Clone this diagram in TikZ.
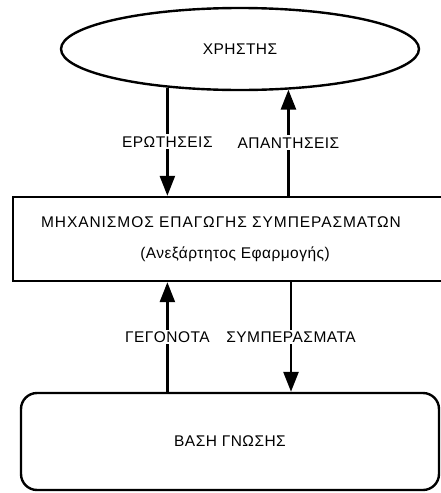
\documentclass[tikz,border=0pt]{standalone}
\usepackage{fontspec}
\setmainfont{Liberation Sans}[LetterSpace=3]
\newfontfamily\widefont{Liberation Sans}[LetterSpace=6]
\usetikzlibrary{shapes.geometric, arrows.meta, positioning}
\tikzstyle{user} = [ellipse, minimum width=358pt, minimum height=82pt, draw=black, line width=2.4pt, inner sep=0pt]
\tikzstyle{engine} = [rectangle, minimum width=432pt, minimum height=84pt, draw=black, line width=2.4pt, inner sep=0pt, align=center]
\tikzstyle{base} = [rectangle, rounded corners=16pt, minimum width=418pt, minimum height=97pt, draw=black, line width=2.4pt, inner sep=0pt]
\tikzstyle{arrow} = [line width=2.6pt, -{Triangle[length=20pt, width=15pt]}]
\tikzstyle{flow} = [fill=white, inner sep=2pt]

\begin{document}
\begin{tikzpicture}[x=1pt, y=-1pt, font=\fontsize{15.5}{17}\selectfont]
\useasboundingbox (0,0) rectangle (441,493);

\node (user) [user] at (240,49) {ΧΡΗΣΤΗΣ};
\node (engine) [engine] at (229,239) {};
\node (enginetitle) [font=\widefont\fontsize{15.5}{17}\selectfont] at (221,222) {ΜΗΧΑΝΙΣΜΟΣ ΕΠΑΓΩΓΗΣ ΣΥΜΠΕΡΑΣΜΑΤΩΝ};
\node (enginenote) [below=12pt of enginetitle.south, anchor=north, xshift=14pt] {(Ανεξάρτητος Εφαρμογής)};
\node (kb) [base] at (230,441.5) {ΒΑΣΗ ΓΝΩΣΗΣ};

% user <-> engine
\draw [arrow] (user.-152) -- node[flow] {ΕΡΩΤΗΣΕΙΣ} (user.-152 |- engine.north);
\draw [arrow] (user.-40 |- engine.north) -- node[flow] {ΑΠΑΝΤΗΣΕΙΣ} (user.-40);

% engine <-> knowledge base
\draw [arrow] (user.-152 |- kb.north) -- node[flow] {ΓΕΓΟΝΟΤΑ} (user.-152 |- engine.south);
\draw [arrow] (engine.south -| 291,0) -- node[flow] {ΣΥΜΠΕΡΑΣΜΑΤΑ} (kb.north -| 291,0);

\end{tikzpicture}
\end{document}
